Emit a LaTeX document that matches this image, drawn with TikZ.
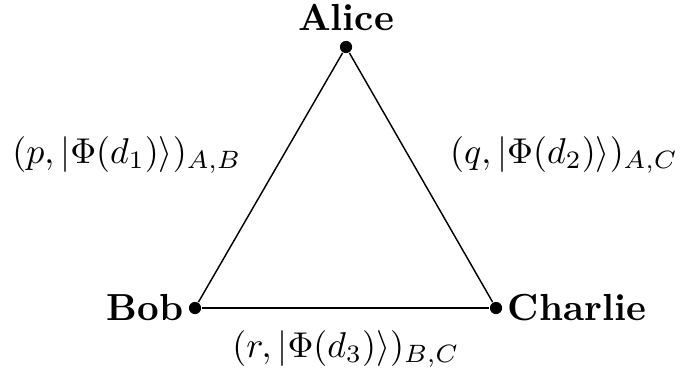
\documentclass[tikz,border=0pt]{standalone}
\usepackage{amsmath,amssymb}
\usetikzlibrary{positioning}

\begin{document}
\begin{tikzpicture}[x=0.0098cm, y=-0.0098cm]
  \tikzset{party/.style={circle, fill=black, inner sep=0pt, minimum size=3.4pt},
           partylabel/.style={font=\fontsize{10.5}{12}\selectfont\bfseries, inner sep=1.2pt}}
  \useasboundingbox (0,0) rectangle (687,372);

  % Parties
  \node[party] (alice) at (346,47) {};
  \node[party] (bob) at (195,308) {};
  \node[party] (charlie) at (496,308) {};
  \node[partylabel, above=1.3pt of alice] (alicename) {Alice};
  \node[partylabel, left=0pt of bob] (bobname) {Bob};
  \node[partylabel, right=0pt of charlie] (charliename) {Charlie};

  % Links
  \draw[thin] (alice) -- (bob);
  \draw[thin] (bob) -- (charlie);
  \draw[thin] (charlie) -- (alice);

  % Shared states
  \node (ab) at (127,155) {$(p,|\Phi(d_1)\rangle)_{A,B}$};
  \node (ac) at (564,155) {$(q,|\Phi(d_2)\rangle)_{A,C}$};
  \node (bc) at (346,349) {$(r,|\Phi(d_3)\rangle)_{B,C}$};
\end{tikzpicture}
\end{document}
